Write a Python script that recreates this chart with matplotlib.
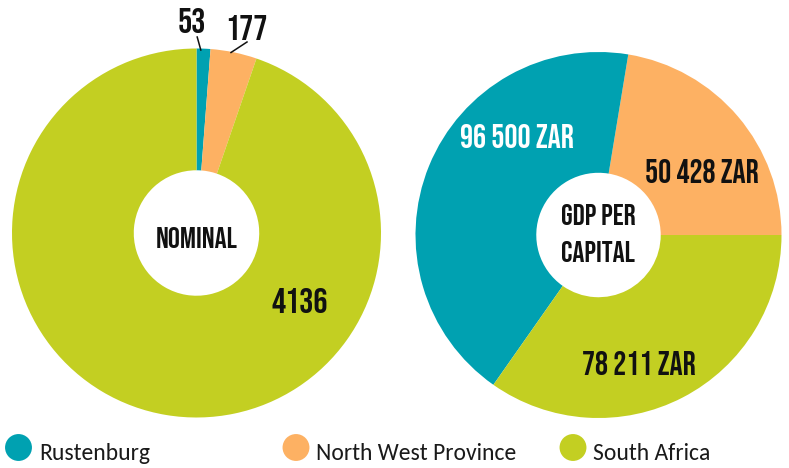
import matplotlib.pyplot as plt

OUT_PNG = "out.png"

regions = ["Rustenburg", "North West Province", "South Africa"]
colors = ["#00a1b1", "#fdb163", "#c3cf22"]

# nominal (left donut)
nominal = [53, 177, 4136]
nominal_labels = ["53", "177", "4136"]

# GDP per capita (right donut)
gdp_pc = [96500, 50428, 78211]
gdp_labels = ["96 500 ZAR", "50 428 ZAR", "78 211 ZAR"]

W, H = 789, 468
BIG = ["Bebas Neue", "DejaVu Sans"]
LEG = ["Carlito", "DejaVu Sans"]

fig = plt.figure(figsize=(W / 100, H / 100), dpi=100)


def px_axes(x0, y0, x1, y1):
    # axes from a pixel box (top-left origin)
    return fig.add_axes([x0 / W, 1 - y1 / H, (x1 - x0) / W, (y1 - y0) / H])


def donut(ax, vals, cols, start, ccw):
    ax.pie(vals, colors=cols, startangle=start, counterclock=ccw, radius=1,
           wedgeprops=dict(width=0.66, linewidth=0))
    ax.set_xlim(-1, 1)
    ax.set_ylim(-1, 1)
    ax.set_aspect("equal")
    ax.axis("off")


# left donut: clockwise from 12 o'clock
ax1 = px_axes(12, 48, 381, 418)
donut(ax1, nominal, colors, 90, False)

# right donut: orange first, counter-clockwise from 3 o'clock
ax2 = px_axes(415, 52, 782, 418)
order = [1, 0, 2]
donut(ax2, [gdp_pc[i] for i in order], [colors[i] for i in order], 0, True)

# overlay in pixel coords for labels + legend
lax = fig.add_axes([0, 0, 1, 1])
lax.set_xlim(0, W)
lax.set_ylim(H, 0)
lax.axis("off")
lax.patch.set_alpha(0)

# left labels
lax.text(197, 248, "NOMINAL", ha="center", va="baseline", fontsize=21.5,
         family=BIG, color="#111")
lax.text(191.5, 33, nominal_labels[0], ha="center", va="baseline", fontsize=25.5,
         family=BIG, color="#111")
lax.text(246.5, 40, nominal_labels[1], ha="center", va="baseline", fontsize=25.5,
         family=BIG, color="#111")
lax.plot([197.2, 200.8], [37, 50], color="#111", lw=1.1)
lax.plot([247, 231], [42, 52.5], color="#111", lw=1.1)
lax.text(300, 313, nominal_labels[2], ha="center", va="baseline", fontsize=25.5,
         family=BIG, color="#111")

# right labels
lax.text(598, 225, "GDP PER", ha="center", va="baseline", fontsize=21.5,
         family=BIG, color="#111")
lax.text(598, 262, "CAPITAL", ha="center", va="baseline", fontsize=21.5,
         family=BIG, color="#111")
lax.text(517, 148, gdp_labels[0], ha="center", va="baseline", fontsize=23.5,
         family=BIG, color="white")
lax.text(701.5, 183, gdp_labels[1], ha="center", va="baseline", fontsize=23.5,
         family=BIG, color="#111")
lax.text(638.5, 375, gdp_labels[2], ha="center", va="baseline", fontsize=23.5,
         family=BIG, color="#111")

# legend row
leg_x = [18.5, 296, 573]
txt_x = [39, 316, 593]
for x, tx, name, c in zip(leg_x, txt_x, regions, colors):
    lax.scatter([x], [447.5], s=375, color=c, edgecolors="none")
    lax.text(tx, 460.5, name, ha="left", va="baseline", fontsize=17,
             family=LEG, color="#1a1a1a")

plt.savefig(OUT_PNG, dpi=100)
print(f"Saved {OUT_PNG}")
